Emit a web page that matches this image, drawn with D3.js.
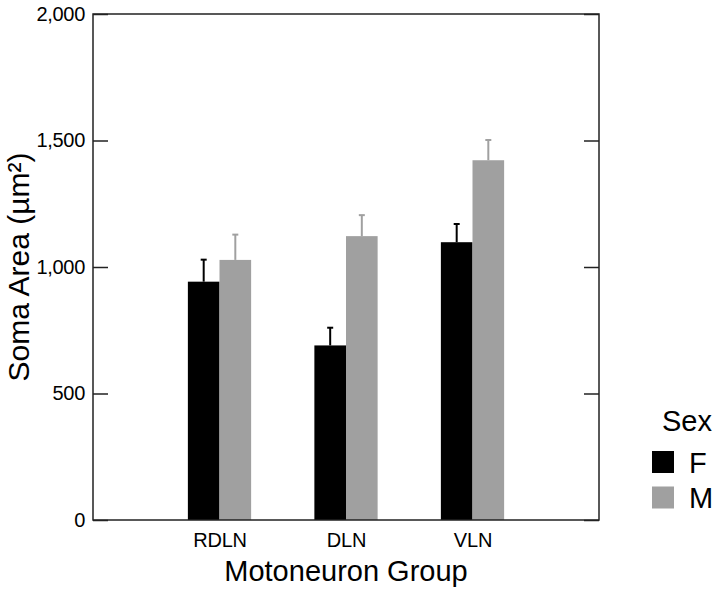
<!DOCTYPE html>
<html><head><meta charset="utf-8">
<script src="https://cdn.jsdelivr.net/npm/d3@7"></script>
<style>body{margin:0;background:#fff}svg{display:block}text{font-family:"Liberation Sans",Arial,sans-serif;fill:#000}</style>
</head><body>
<svg id="c" width="720" height="594"></svg>
<script>
const groups = ["RDLN","DLN","VLN"];
const sexes = ["F","M"];
const meanF = [942, 690, 1098];
const errF = [87, 70, 72];
const meanM = [1028, 1122, 1422];
const errM = [100, 83, 80];
const yTicks = [0, 500, 1000, 1500, 2000];
const colors = {F:"#000000", M:"#a0a0a0"};

const rows = [];
groups.forEach((g,i)=>{
  rows.push({g, s:"F", v:meanF[i], e:errF[i]});
  rows.push({g, s:"M", v:meanM[i], e:errM[i]});
});

const L=93, R=599, T=14, B=520;
const svg = d3.select("#c");
const x = d3.scalePoint().domain(groups).range([L,R]).padding(1);
const y = d3.scaleLinear().domain([0,2000]).range([B,T]);
const bw = x.step()*0.25;
const xs = d3.scaleBand().domain(sexes).range([-bw, bw]);

// bars
svg.append("g").selectAll("rect").data(rows).join("rect")
  .attr("x", d=>x(d.g)+xs(d.s))
  .attr("y", d=>y(d.v))
  .attr("width", xs.bandwidth())
  .attr("height", d=>y(0)-y(d.v))
  .attr("fill", d=>colors[d.s]);

// error bars
const eb = svg.append("g").selectAll("g").data(rows).join("g")
  .attr("stroke", d=>colors[d.s]).attr("stroke-width", 2);
eb.append("line")
  .attr("x1", d=>x(d.g)+xs(d.s)+xs.bandwidth()/2)
  .attr("x2", d=>x(d.g)+xs(d.s)+xs.bandwidth()/2)
  .attr("y1", d=>y(d.v)).attr("y2", d=>y(d.v+d.e));
eb.append("line")
  .attr("x1", d=>x(d.g)+xs(d.s)+xs.bandwidth()/2-3)
  .attr("x2", d=>x(d.g)+xs(d.s)+xs.bandwidth()/2+3)
  .attr("y1", d=>y(d.v+d.e)).attr("y2", d=>y(d.v+d.e));

// frame
svg.append("rect").attr("x",L).attr("y",T).attr("width",R-L).attr("height",B-T)
  .attr("fill","none").attr("stroke","#222").attr("stroke-width",1.5);

// left axis
const ya = svg.append("g").attr("transform",`translate(${L},0)`)
  .call(d3.axisLeft(y).tickValues(yTicks).tickFormat(d3.format(",")).tickSize(-15).tickPadding(8));
ya.select(".domain").remove();
ya.selectAll(".tick line").attr("stroke","#222").attr("stroke-width",1.5);
ya.selectAll(".tick text").attr("font-size",20).attr("font-family","Liberation Sans, Arial, sans-serif").attr("letter-spacing","-0.3");
// right axis ticks
const yr = svg.append("g").attr("transform",`translate(${R},0)`)
  .call(d3.axisRight(y).tickValues(yTicks).tickFormat("").tickSize(-15));
yr.select(".domain").remove();
yr.selectAll(".tick line").attr("stroke","#222").attr("stroke-width",1.5);

// bottom axis labels
const xa = svg.append("g").attr("transform",`translate(0,${B})`)
  .call(d3.axisBottom(x).tickSize(0).tickPadding(13));
xa.select(".domain").remove();
xa.selectAll(".tick text").attr("font-size",20).attr("font-family","Liberation Sans, Arial, sans-serif").attr("letter-spacing","-0.2");

// titles
svg.append("text").attr("x",(L+R)/2).attr("y",581).attr("text-anchor","middle")
  .attr("font-size",29).text("Motoneuron Group");
svg.append("text").attr("transform",`translate(29,${(T+B)/2}) rotate(-90)`).attr("text-anchor","middle")
  .attr("font-size",30).text("Soma Area (µm²)");

// legend
svg.append("text").attr("x",662).attr("y",431).attr("font-size",29).text("Sex");
const lg = svg.append("g").selectAll("g").data(sexes).join("g")
  .attr("transform",(d,i)=>`translate(652,${451+i*35.5})`);
lg.append("rect").attr("width",22).attr("height",22).attr("fill",d=>colors[d]);
lg.append("text").attr("x",37).attr("y",21.5).attr("font-size",29).text(d=>d);
</script>
</body></html>
